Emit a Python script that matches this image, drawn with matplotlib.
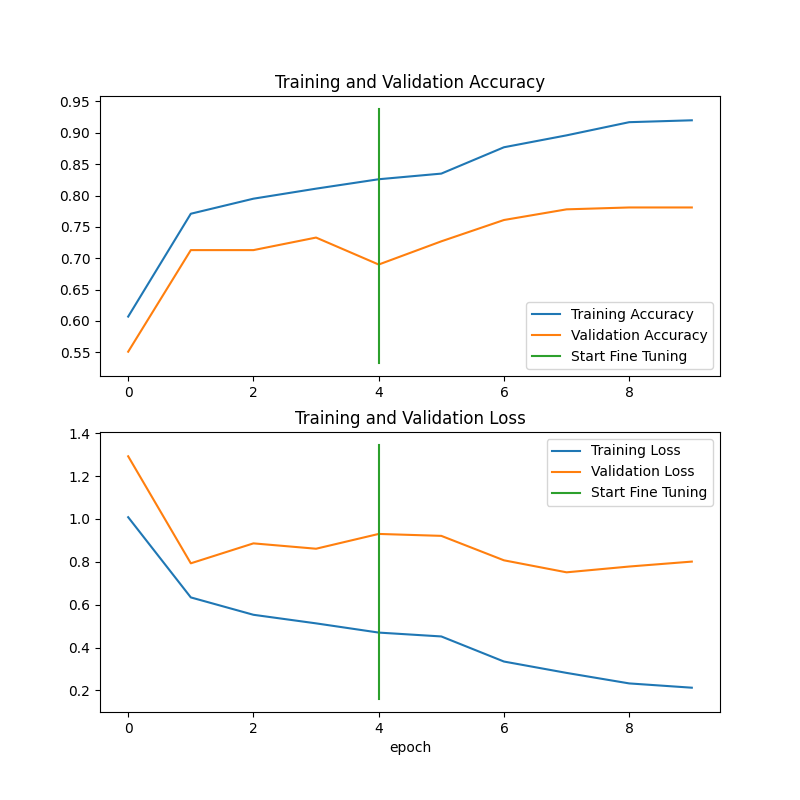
import matplotlib
matplotlib.use("Agg")
import matplotlib.pyplot as plt

initial_epochs = 5

acc = [0.607, 0.771, 0.795, 0.811, 0.826, 0.835, 0.877, 0.896, 0.917, 0.920]
val_acc = [0.551, 0.713, 0.713, 0.733, 0.690, 0.727, 0.761, 0.778, 0.781, 0.781]
loss = [1.008, 0.634, 0.553, 0.513, 0.470, 0.452, 0.335, 0.282, 0.233, 0.213]
val_loss = [1.292, 0.793, 0.886, 0.861, 0.930, 0.921, 0.807, 0.751, 0.778, 0.801]

plt.figure(figsize=(8, 8))

plt.subplot(2, 1, 1)
plt.plot(acc, label='Training Accuracy')
plt.plot(val_acc, label='Validation Accuracy')
plt.plot([initial_epochs - 1, initial_epochs - 1], plt.ylim(), label='Start Fine Tuning')
plt.legend(loc='lower right')
plt.title('Training and Validation Accuracy')

plt.subplot(2, 1, 2)
plt.plot(loss, label='Training Loss')
plt.plot(val_loss, label='Validation Loss')
plt.plot([initial_epochs - 1, initial_epochs - 1], plt.ylim(), label='Start Fine Tuning')
plt.legend(loc='upper right')
plt.title('Training and Validation Loss')
plt.xlabel('epoch')

plt.savefig('out.png', dpi=100)
